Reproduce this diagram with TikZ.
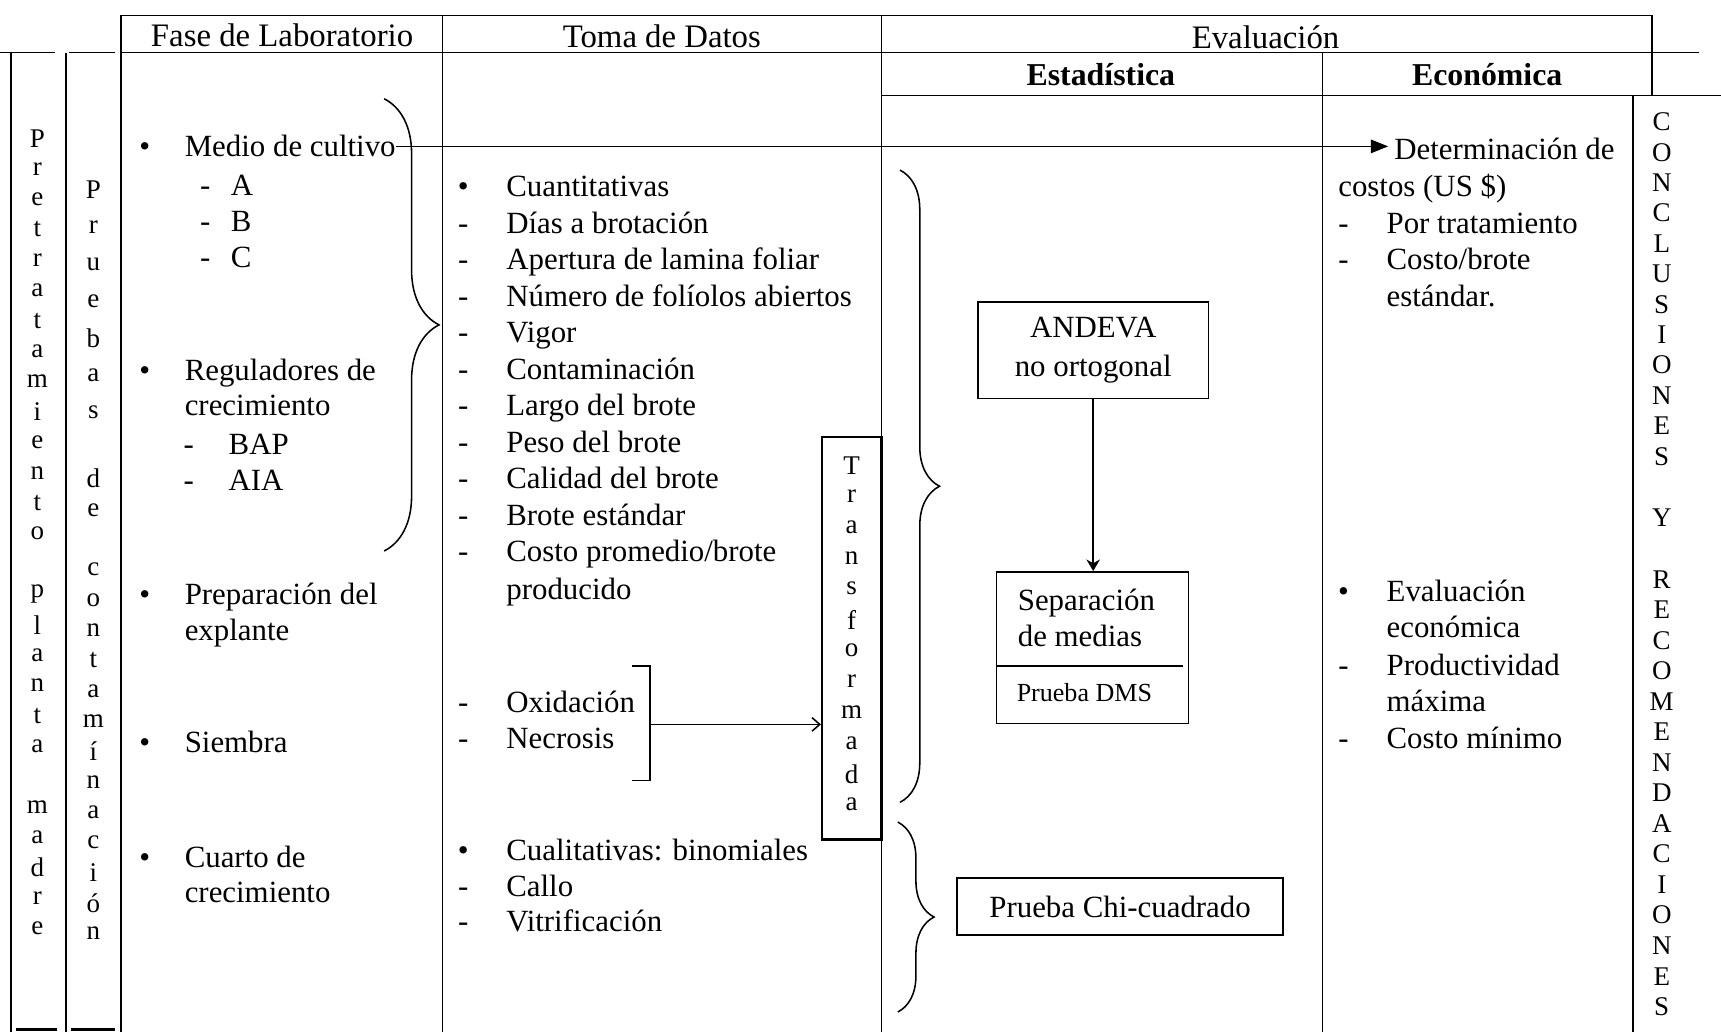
\documentclass[tikz,border=0pt]{standalone}
\usepackage{fontspec}
\setmainfont{Liberation Serif}
\usetikzlibrary{arrows.meta}
\usetikzlibrary{decorations.pathreplacing}

\begin{document}
\begin{tikzpicture}[x=0.2mm,y=0.2mm,
  rule/.style={line width=0.8pt},
  head/.style={font=\fontsize{17}{20}\selectfont},
  subhead/.style={font=\bfseries\fontsize{16.5}{20}\selectfont},
  txt/.style={anchor=base west,inner sep=0pt,font=\fontsize{16}{19}\selectfont},
  bul/.style={anchor=base,inner sep=0pt,font=\fontsize{16}{19}\selectfont},
  vlet/.style={inner sep=0pt,font=\fontsize{14}{16}\selectfont},
  box/.style={draw,line width=0.8pt,inner sep=0pt},
  bigbrace/.style={decorate,decoration={brace,amplitude=#1},line width=0.8pt}]
\useasboundingbox (0,0) rectangle (1568,-940);

% cuadro
\draw [rule] (110,-14) -- (1505,-14);
\draw [rule] (110,-48) -- (1548,-48);
\draw [rule] (0,-48) -- (50,-48);
\draw [rule] (63,-48) -- (105,-48);
\draw [rule] (803,-87) -- (1568,-87);
\draw [rule] (10,-48) -- (10,-940);
\draw [rule] (60,-48) -- (60,-940);
\draw [rule] (110,-14) -- (110,-940);
\draw [rule] (403,-14) -- (403,-940);
\draw [rule] (803,-14) -- (803,-940);
\draw [rule] (1205,-48) -- (1205,-940);
\draw [rule] (1505,-14) -- (1505,-87);
\draw [rule] (1488,-87) -- (1488,-940);
\draw [line width=1.5pt] (15,-938) -- (52,-938);
\draw [line width=1.5pt] (65,-938) -- (105,-938);

% encabezados
\node [head] (fase) at (257,-32) {Fase de Laboratorio};
\node [head] (toma) at (603,-33) {Toma de Datos};
\node [head] (eval) at (1153,-34) {Evaluación};
\node [subhead] (esta) at (1003,-68) {Estadística};
\node [subhead] (econ) at (1355,-68) {Económica};

% columnas verticales
\foreach \l [count=\i from 0] in {P,r,e,t,r,a,t,a,m,i,e,n,t,o}
  \node [vlet] (pre\i) at (34,{-126-27.7*\i}) {\l};
\foreach \l [count=\i from 0] in {p,l,a,n,t,a}
  \node [vlet] (pla\i) at (34,{-541.5-27.7*\i}) {\l};
\foreach \l [count=\i from 0] in {m,a,d,r,e}
  \node [vlet] (mad\i) at (34,{-735-27.7*\i}) {\l};
\foreach \l [count=\i from 0] in {P,r,u,e,b,a,s}
  \node [vlet] (pru\i) at (85,{-173-33.8*\i}) {\l};
\node [vlet] (de1) at (85,-436) {d};
\node [vlet] (de2) at (85,-465) {e};
\foreach \l [count=\i from 0] in {c,o,n,t,a,m,í,n,a,c,i,ó,n}
  \node [vlet] (con\i) at (85,{-519-27.6*\i}) {\l};

% fase de laboratorio
\node [bul] (fb1) at (132,-143) {\textbullet};
\node [txt] (medio) at (168,-143) {Medio de cultivo};
\foreach \l [count=\i from 0] in {A,B,C} {
  \node [bul] (fd\l) at (187,{-178-33*\i}) {-};
  \node [txt] (f\l) at (210,{-178-33*\i}) {\l};
}
\node [bul] (fb2) at (132,-347) {\textbullet};
\node [txt] (reg) at (168,-347) {Reguladores de};
\node [txt] (reg2) at (168,-379) {crecimiento};
\node [bul] (fd4) at (172,-414) {-};
\node [txt] (bap) at (208,-414) {BAP};
\node [bul] (fd5) at (172,-447) {-};
\node [txt] (aia) at (208,-447) {AIA};
\node [bul] (fb3) at (132,-551) {\textbullet};
\node [txt] (prep) at (168,-551) {Preparación del};
\node [txt] (prep2) at (168,-584) {explante};
\node [bul] (fb4) at (132,-686) {\textbullet};
\node [txt] (siem) at (168,-686) {Siembra};
\node [bul] (fb5) at (132,-790) {\textbullet};
\node [txt] (cuar) at (168,-790) {Cuarto de};
\node [txt] (cuar2) at (168,-822) {crecimiento};
\draw [bigbrace=1cm] (350,-90) -- (350,-502);

% toma de datos
\node [bul] (tb1) at (422,-179) {\textbullet};
\node [txt] (cuant) at (461,-179) {Cuantitativas};
\foreach \t [count=\i] in {Días a brotación,Apertura de lamina foliar,Número de folíolos abiertos,Vigor,Contaminación,Largo del brote,Peso del brote,Calidad del brote,Brote estándar,Costo promedio/brote} {
  \node [bul] (td\i) at (422,{-179-33.3*\i}) {-};
  \node [txt] (t\i) at (461,{-179-33.3*\i}) {\t};
}
\node [txt] (prod) at (461,-546) {producido};
\node [bul] (td11) at (422,-649) {-};
\node [txt] (oxi) at (461,-649) {Oxidación};
\node [bul] (td12) at (422,-682) {-};
\node [txt] (necr) at (461,-682) {Necrosis};
\node [bul] (tb2) at (422,-784) {\textbullet};
\node [txt] (cual) at (461,-784) {Cualitativas: binomiales};
\node [bul] (td13) at (422,-817) {-};
\node [txt] (callo) at (461,-817) {Callo};
\node [bul] (td14) at (422,-849) {-};
\node [txt] (vitr) at (461,-849) {Vitrificación};

% transformada
\node [box,line width=1.2pt,minimum width=1.08cm,minimum height=7.34cm] (tf) at (776,-581.5) {};
\foreach \l [count=\i from 0] in {T,r,a,n,s,f,o,r,m,a,d,a}
  \node [vlet] (tfl\i) at (776,{-424-28.1*\i}) {\l};
\coordinate (brt) at (576,-607);
\coordinate (brb) at (576,-711);
\coordinate (brm) at (592,-660);
\draw [rule] (brt) -- ++(16,0) -- ++(0,-104) -- (brb);
\draw [rule,-{Straight Barb[length=4pt,width=7pt]}] (brm) -- (brm -| tf.west);

% estadistica
\draw [bigbrace=0.72cm] (820,-155) -- (820,-731);
\draw [bigbrace=0.66cm] (818,-749) -- (818,-922);
\node [box,minimum width=4.2cm,minimum height=1.76cm,align=center,
  font=\fontsize{16}{20}\selectfont] (andeva) at (996,-319) {ANDEVA\\no ortogonal};
\node [box,minimum width=3.5cm,minimum height=2.76cm] (sep) at (995.5,-590) {};
\node [txt] (sep1) at (927,-556) {Separación};
\node [txt] (sep2) at (927,-589) {de medias};
\coordinate (divr) at (1078,-607);
\draw [rule] (divr -| sep.west) -- (divr);
\node [txt,font=\fontsize{13.5}{16}\selectfont] (dms) at (926,-639) {Prueba DMS};
\draw [rule,-{Stealth[length=6pt,width=7pt]}] (andeva.south) -- (andeva.south |- sep.north);
\node [box,minimum width=5.94cm,minimum height=1.04cm,
  font=\fontsize{16}{19}\selectfont] (chi) at (1020.5,-826) {Prueba Chi-cuadrado};

% economica
\node [txt] (det) at (1270,-145) {Determinación de};
\node [txt] (costos) at (1219,-179) {costos (US \$)};
\node [bul] (ed1) at (1224,-213) {-};
\node [txt] (portr) at (1263,-213) {Por tratamiento};
\node [bul] (ed2) at (1224,-246) {-};
\node [txt] (cbr) at (1263,-246) {Costo/brote};
\node [txt] (cbr2) at (1263,-279) {estándar.};
\node [bul] (eb1) at (1224,-548) {\textbullet};
\node [txt] (evec) at (1263,-548) {Evaluación};
\node [txt] (evec2) at (1263,-581) {económica};
\node [bul] (ed3) at (1224,-615) {-};
\node [txt] (prodm) at (1263,-615) {Productividad};
\node [txt] (prodm2) at (1263,-648) {máxima};
\node [bul] (ed4) at (1224,-682) {-};
\node [txt] (cmin) at (1263,-682) {Costo mínimo};
\draw [rule,shorten >=3pt,-{Triangle[length=9pt,width=7pt]}] (medio.east) -- (medio.east -| det.west);

% conclusiones
\foreach \l [count=\i from 0] in {C,O,N,C,L,U,S,I,O,N,E,S}
  \node [vlet] (conc\i) at (1514,{-111-27.7*\i}) {\l};
\node [vlet] (yy) at (1514,-472) {Y};
\foreach \l [count=\i from 0] in {R,E,C,O,M,E,N,D,A,C,I,O,N,E,S}
  \node [vlet] (rec\i) at (1514,{-528-27.8*\i}) {\l};

\end{tikzpicture}
\end{document}
